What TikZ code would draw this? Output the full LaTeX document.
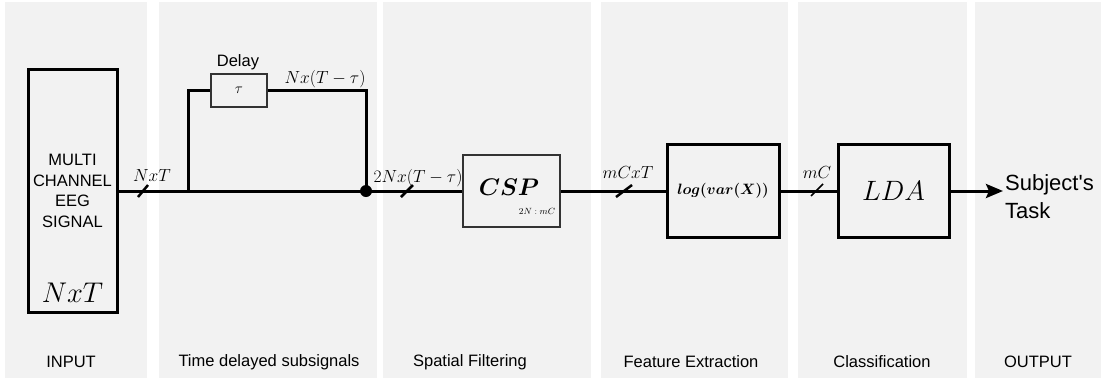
\RequirePackage{fix-cm}
\documentclass[tikz,border=0pt]{standalone}
\usepackage{bm}
\usepackage{fontspec}
\setmainfont{Liberation Sans}
\usetikzlibrary{arrows.meta}

\begin{document}
\begin{tikzpicture}[
    x=1pt, y=-1pt,
    panel/.style={fill=black!5},
    blk/.style={rectangle, draw, line width=3pt, inner sep=0pt, align=center},
    thinblk/.style={rectangle, draw=black!80, line width=1.5pt, inner sep=0pt},
    wire/.style={line width=3pt},
    busmark/.style={line width=2.5pt},
    lbl/.style={font=\fontsize{16.5}{20.7}\selectfont, align=center},
    mlbl/.style={font=\fontsize{17.5}{21}\selectfont},
    arr/.style={wire, -{Stealth[length=17pt, width=14pt, inset=3pt]}},
  ]
  \useasboundingbox (0,0) rectangle (1101,381);

  % ===== Stage panels =====
  \foreach \xa/\xb in {5/147, 159/377, 383/591, 601/788, 798/967, 975/1101}
    \fill[panel] (\xa,2) rectangle (\xb,378);

  \node[lbl] (tin)   at (71, 362)  {INPUT};
  \node[lbl] (tdel)  at (269, 362) {Time delayed subsignals};
  \node[lbl] (tsf)   at (470, 362) {Spatial Filtering};
  \node[lbl] (tfe)   at (691, 362) {Feature Extraction};
  \node[lbl] (tcl)   at (882, 362) {Classification};
  \node[lbl] (tout)  at (1038, 362) {OUTPUT};

  % ===== Input =====
  \node[blk, lbl, minimum width=89pt, minimum height=243pt] (input) at (72.5, 191)
    {MULTI\\CHANNEL\\EEG\\SIGNAL};
  \node[font=\fontsize{28.5}{30}\selectfont] (innt) at (72.5, 293) {$NxT$};

  % ===== Time delayed subsignals =====
  \coordinate (split) at (188, 191);
  \node[thinblk, minimum width=56pt, minimum height=33pt] (delay) at (239, 90.5)
    {\fontsize{15}{17}\selectfont$\tau$};
  \node[lbl] (delaylbl) at (238, 62) {Delay};
  \node[circle, fill, inner sep=0pt, minimum size=12pt] (join) at (366, 191) {};

  \draw[wire] (input.east) -- (join.center);
  \draw[wire] (split) |- (delay.west);
  \draw[wire] (delay.east) -| (join.center);

  \node[mlbl] (ntlbl)  at (152, 176) {$NxT$};
  \node[mlbl] (dellbl) at (325, 79)  {$Nx(T-\tau)$};
  \draw[busmark] ([shift={(-5,6)}]143,191) -- ([shift={(5,-6)}]143,191);

  % ===== Spatial filtering =====
  \node[thinblk, minimum width=97pt, minimum height=72pt] (csp) at (511.5, 191) {};
  \node[font=\fontsize{24}{26}\selectfont] (csptxt) at (509, 187) {$\bm{CSP}$};
  \node[font=\fontsize{9}{10}\selectfont] (cspsub) at (537, 211) {$2N:mC$};
  \draw[wire] (join.center) -- (csp.west);
  \node[mlbl] (csplbl) at (418, 178) {$2Nx(T-\tau)$};
  \draw[busmark] ([shift={(-6,6)}]407,191) -- ([shift={(6,-6)}]407,191);

  % ===== Feature extraction =====
  \node[blk, minimum width=112pt, minimum height=93pt,
        font=\fontsize{15}{17}\selectfont] (logv) at (723, 191) {$\bm{log(var(X))}$};
  \draw[wire] (csp.east) -- (logv.west);
  \node[mlbl] (fealbl) at (628, 173) {$mCxT$};
  \draw[busmark] ([shift={(-8,6)}]624,191) -- ([shift={(8,-6)}]624,191);

  % ===== Classification =====
  \node[blk, minimum width=111pt, minimum height=93pt,
        font=\fontsize{28}{30}\selectfont] (lda) at (893.5, 191) {$LDA$};
  \draw[wire] (logv.east) -- (lda.west);
  \node[mlbl] (clslbl) at (817, 173) {$mC$};
  \draw[line width=1.5pt] ([shift={(-6,6)}]817,190) -- ([shift={(6,-6)}]817,190);

  % ===== Output =====
  \node[font=\fontsize{22}{28}\selectfont, align=left, anchor=west, inner sep=2pt]
    (task) at (1003, 197) {Subject\textquotesingle s\\Task};
  \draw[arr] (lda.east) -- (lda.east -| task.west);

\end{tikzpicture}
\end{document}
